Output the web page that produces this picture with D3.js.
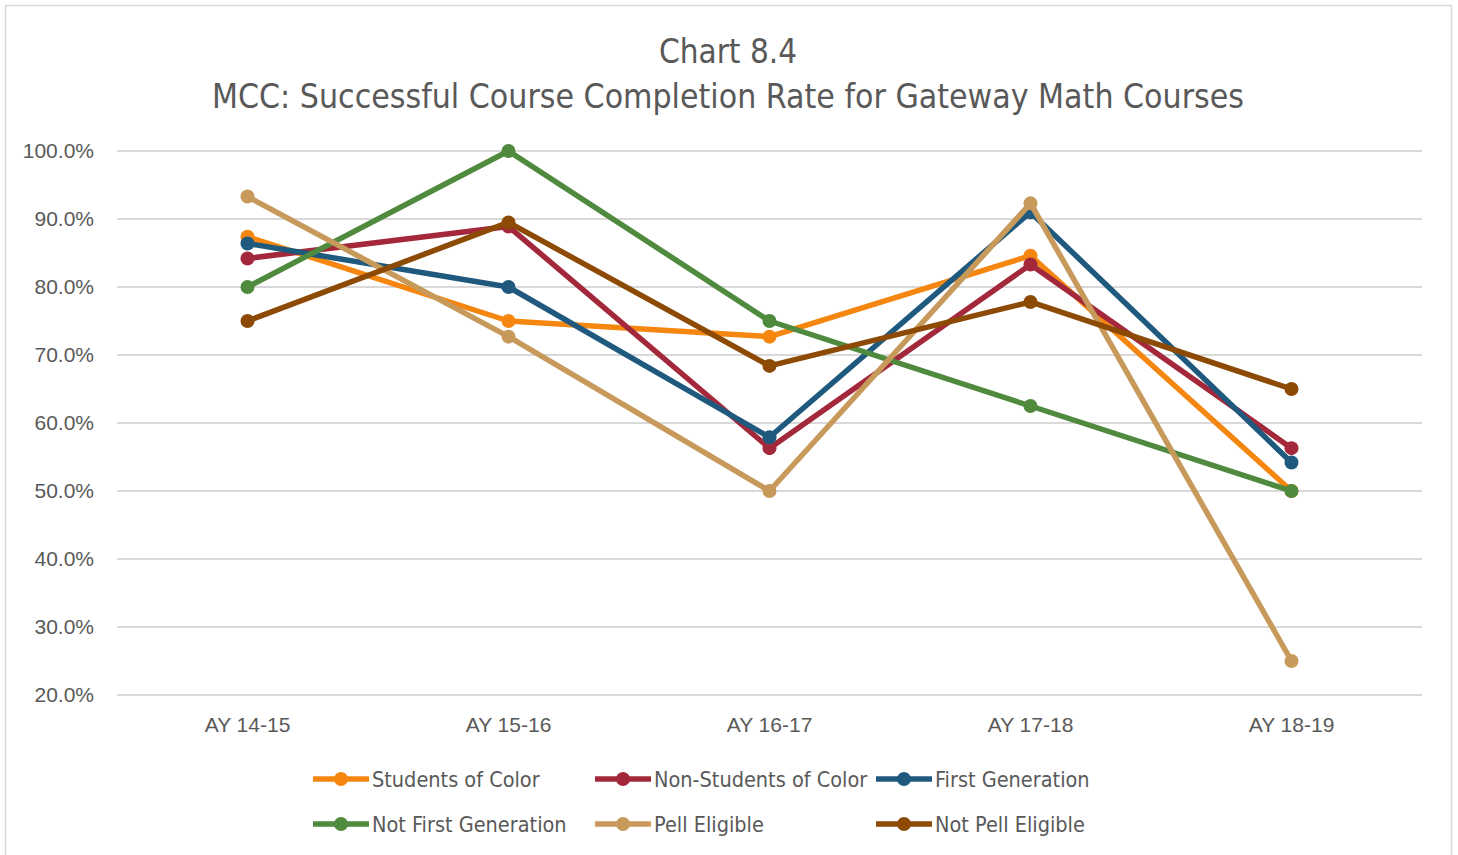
<!DOCTYPE html>
<html>
<head>
<meta charset="utf-8">
<script src="https://cdn.jsdelivr.net/npm/d3@7"></script>
<style>
  body { margin: 0; background: #fff; }
  svg { font-family: "Liberation Sans Narrow", "DejaVu Sans Condensed", "Open Sans", sans-serif; }
</style>
</head>
<body>
<svg></svg>
<script>
const width = 1458
const height = 855

const categories = ['AY 14-15', 'AY 15-16', 'AY 16-17', 'AY 17-18', 'AY 18-19']
const seriesNames = ['Students of Color', 'Non-Students of Color', 'First Generation',
    'Not First Generation', 'Pell Eligible', 'Not Pell Eligible']
const studentsOfColor = [87.4, 75.0, 72.7, 84.6, 50.0]
const nonStudentsOfColor = [84.2, 88.9, 56.3, 83.3, 56.3]
const firstGeneration = [86.4, 80.0, 57.9, 91.0, 54.2]
const notFirstGeneration = [80.0, 100.0, 75.0, 62.5, 50.0]
const pellEligible = [93.3, 72.7, 50.0, 92.3, 25.0]
const notPellEligible = [75.0, 89.5, 68.4, 77.8, 65.0]
const yTicks = [20, 30, 40, 50, 60, 70, 80, 90, 100]

const colors = ['#F5860F', '#A3283B', '#1F5A7E', '#4F8A3E', '#C79A5B', '#8C4A05']
const allValues = [studentsOfColor, nonStudentsOfColor, firstGeneration,
    notFirstGeneration, pellEligible, notPellEligible]
const series = seriesNames.map((name, i) => ({ name, values: allValues[i], color: colors[i] }))

const svg = d3.select('svg')
    .attr('width', width)
    .attr('height', height)

// outer frame
svg.append('rect')
    .attr('x', 5.5).attr('y', 5.5)
    .attr('width', 1446).attr('height', 860)
    .attr('fill', 'none')
    .attr('stroke', '#d9d9d9')
    .attr('stroke-width', 1.5)

svg.append('text')
    .attr('x', 728).attr('y', 63)
    .attr('text-anchor', 'middle')
    .attr('font-size', 33)
    .attr('fill', '#595959')
    .text('Chart 8.4')
svg.append('text')
    .attr('x', 728).attr('y', 108)
    .attr('text-anchor', 'middle')
    .attr('font-size', 33.5)
    .attr('fill', '#595959')
    .text('MCC: Successful Course Completion Rate for Gateway Math Courses')

const x = d3.scaleBand()
    .domain(categories)
    .range([117, 1422])
const y = d3.scaleLinear()
    .domain([20, 100])
    .range([695, 151])

// gridlines
svg.append('g')
    .selectAll('line')
    .data(yTicks)
    .join('line')
    .attr('x1', 117).attr('x2', 1422)
    .attr('y1', d => y(d)).attr('y2', d => y(d))
    .attr('stroke', '#d9d9d9')
    .attr('stroke-width', 2)

const yAxis = svg.append('g')
    .attr('transform', 'translate(97,0)')
    .call(d3.axisLeft(y).tickValues(yTicks).tickSize(0).tickFormat(d => d.toFixed(1) + '%'))
yAxis.select('.domain').remove()
yAxis.selectAll('text')
    .attr('font-size', 21)
    .attr('fill', '#595959')
    .attr('font-family', null)

const xAxis = svg.append('g')
    .attr('transform', 'translate(0,714)')
    .call(d3.axisBottom(x).tickSize(0))
xAxis.select('.domain').remove()
xAxis.selectAll('text')
    .attr('font-size', 21)
    .attr('fill', '#595959')
    .attr('font-family', null)

const cx = c => x(c) + x.bandwidth() / 2
const line = d3.line()
    .x((d, i) => cx(categories[i]))
    .y(d => y(d))

const groups = svg.append('g')
    .selectAll('g')
    .data(series)
    .join('g')

groups.append('path')
    .attr('d', d => line(d.values))
    .attr('fill', 'none')
    .attr('stroke', d => d.color)
    .attr('stroke-width', 5.5)
    .attr('stroke-linejoin', 'round')

groups.selectAll('circle')
    .data(d => d.values.map((v, i) => ({ v, i, color: d.color })))
    .join('circle')
    .attr('cx', d => cx(categories[d.i]))
    .attr('cy', d => y(d.v))
    .attr('r', 7)
    .attr('fill', d => d.color)

// legend
const legendX = [313, 595, 876]
const legendY = [779, 824]
const legend = svg.append('g')
    .selectAll('g')
    .data(series)
    .join('g')
    .attr('transform', (d, i) => `translate(${legendX[i % 3]},${legendY[Math.floor(i / 3)]})`)

legend.append('line')
    .attr('x1', 0).attr('x2', 56)
    .attr('stroke', d => d.color)
    .attr('stroke-width', 5.5)
legend.append('circle')
    .attr('cx', 28)
    .attr('r', 7)
    .attr('fill', d => d.color)
legend.append('text')
    .attr('x', 59)
    .attr('dy', '0.35em')
    .attr('font-size', 21.5)
    .attr('fill', '#595959')
    .text(d => d.name)
</script>
</body>
</html>
